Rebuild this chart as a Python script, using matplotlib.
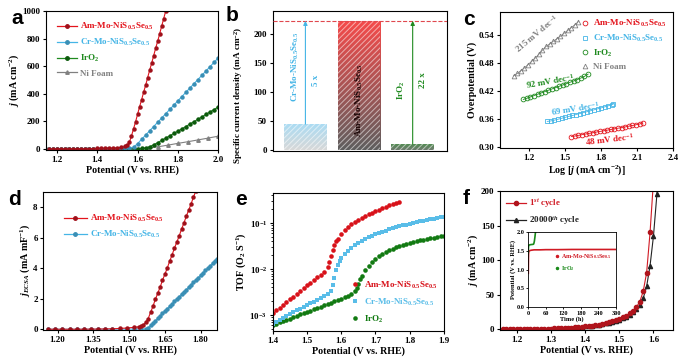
import numpy as np
import matplotlib
matplotlib.use('Agg')
import matplotlib.pyplot as plt
from matplotlib.lines import Line2D
from matplotlib.colors import LinearSegmentedColormap
from matplotlib.ticker import FormatStrFormatter, MultipleLocator

plt.rcParams['font.family'] = ['Liberation Serif', 'DejaVu Serif']
plt.rcParams['font.weight'] = 'bold'
plt.rcParams['axes.labelweight'] = 'bold'
plt.rcParams['mathtext.fontset'] = 'custom'
plt.rcParams['mathtext.rm'] = 'Liberation Serif:bold'
plt.rcParams['mathtext.it'] = 'Liberation Serif:italic:bold'
plt.rcParams['mathtext.bf'] = 'Liberation Serif:bold'
plt.rcParams['axes.linewidth'] = 0.8
plt.rcParams['hatch.linewidth'] = 0.7

RED = '#e3141c'
BLUE = '#45b5e6'
GREEN = '#1f8a1f'
GRAY = '#808080'
AM = 'Am-Mo-NiS$_{0.5}$Se$_{0.5}$'
CR = 'Cr-Mo-NiS$_{0.5}$Se$_{0.5}$'
IR = 'IrO$_2$'
NI = 'Ni Foam'

# ---------------- panel a data ----------------
a_V = np.round(np.arange(1.16, 2.001, 0.02), 2)
a_am_V = [1.16, 1.18, 1.20, 1.22, 1.24, 1.26, 1.28, 1.30, 1.32, 1.34, 1.36, 1.38, 1.40, 1.42, 1.44,
          1.46, 1.48, 1.50, 1.52, 1.54, 1.55, 1.56, 1.57, 1.58, 1.59, 1.60, 1.61, 1.62, 1.63, 1.64,
          1.65, 1.66, 1.67, 1.68, 1.69, 1.70, 1.71, 1.72, 1.73, 1.74]
a_am_j = [0, 0, 0, 0.5, 0.5, 1, 1, 1, 1.5, 2, 2, 2.5, 3, 3.5, 4, 5, 6, 8, 11, 18,
          28, 50, 95, 145, 195, 250, 305, 355, 410, 460, 515, 570, 620, 675, 730, 780, 835, 890, 945, 1000]
a_cr_j = [0, 0, 0, 0, 0, 0, 0, 0.5, 0.5, 0.5, 0.5, 1, 1, 1, 1, 1.5, 2, 2.5, 3, 4, 6, 12,
          38, 69, 100, 131, 162, 193, 224, 255, 286, 317, 348, 379, 410, 441, 472, 503, 534, 565, 596, 627, 658]
a_ir_j = [0, 0, 0, 0, 0, 0, 0, 0, 0, 0, 0, 0, 0.5, 0.5, 0.5, 0.5, 0.5, 1, 1, 1, 1.5, 1.5, 2, 3, 6, 15,
          30, 45, 62, 78, 95, 112, 128, 145, 162, 180, 197, 215, 232, 250, 268, 285, 303]
a_ni_V = [1.15, 1.20, 1.25, 1.30, 1.35, 1.40, 1.45, 1.50, 1.55, 1.60, 1.65, 1.70, 1.75, 1.80, 1.85, 1.90, 1.95, 2.00]
a_ni_j = [0, 0, 0, 0, 0, 0, 0, 0, 0, 1, 5, 15, 27, 40, 52, 65, 78, 92]

# ---------------- panel b data ----------------
b_names = [CR, AM, IR]
b_vals = [45, 223, 10.5]
b_ratio = ['5 x', '', '22 x']

# ---------------- panel c data ----------------
c_am_x = [1.55, 1.58, 1.61, 1.64, 1.67, 1.70, 1.73, 1.76, 1.79, 1.82, 1.85, 1.88, 1.91, 1.94, 1.97, 2.00,
          2.03, 2.06, 2.09, 2.12, 2.145]
c_am_y = [0.322, 0.3233, 0.3247, 0.3262, 0.3276, 0.3290, 0.3304, 0.3318, 0.3331, 0.3345, 0.3358, 0.3372,
          0.3386, 0.3400, 0.3414, 0.3428, 0.3443, 0.3458, 0.3474, 0.3490, 0.3515]
c_cr_x = [1.35, 1.38, 1.41, 1.44, 1.47, 1.50, 1.53, 1.56, 1.59, 1.62, 1.65, 1.68, 1.71, 1.74, 1.77, 1.80,
          1.83, 1.86, 1.89, 1.90]
c_cr_y = [0.3545, 0.3555, 0.3572, 0.3592, 0.3612, 0.3632, 0.3652, 0.3672, 0.3692, 0.3712, 0.3732, 0.3752,
          0.3772, 0.3793, 0.3814, 0.3835, 0.3857, 0.3880, 0.3905, 0.3915]
c_ir_x = [1.15, 1.18, 1.21, 1.24, 1.27, 1.30, 1.33, 1.36, 1.39, 1.42, 1.45, 1.48, 1.51, 1.54, 1.57, 1.60,
          1.63, 1.66, 1.69]
c_ir_y = [0.4015, 0.4040, 0.4070, 0.4098, 0.4127, 0.4155, 0.4183, 0.4212, 0.4240, 0.4268, 0.4297, 0.4325,
          0.4353, 0.4382, 0.4410, 0.4440, 0.4472, 0.4508, 0.4555]
c_ni_x = [1.07, 1.10, 1.13, 1.16, 1.19, 1.22, 1.25, 1.28, 1.31, 1.34, 1.37, 1.40, 1.43, 1.46, 1.49, 1.52,
          1.55, 1.58, 1.61]
c_ni_y = [0.452, 0.457, 0.463, 0.469, 0.476, 0.483, 0.490, 0.498, 0.507, 0.515, 0.520, 0.526, 0.531, 0.537,
          0.543, 0.549, 0.555, 0.561, 0.568]
c_slopes = ['215 mV dec$^{-1}$', '92 mV dec$^{-1}$', '69 mV dec$^{-1}$', '48 mV dec$^{-1}$']

# ---------------- panel d data ----------------
d_am_V = [1.16, 1.19, 1.22, 1.25, 1.28, 1.31, 1.34, 1.37, 1.40, 1.43, 1.46, 1.49, 1.52, 1.54, 1.55, 1.56,
          1.57, 1.58, 1.59, 1.60, 1.61, 1.62, 1.63, 1.64, 1.65, 1.66, 1.67, 1.68, 1.69, 1.70, 1.71, 1.72,
          1.73, 1.74, 1.75, 1.76, 1.77, 1.78]
d_am_j = [0, 0, 0, 0, 0, 0, 0.01, 0.01, 0.02, 0.03, 0.05, 0.08, 0.12, 0.16, 0.2, 0.3, 0.45, 0.7,
          1.1, 1.5, 1.95, 2.35, 2.75, 3.2, 3.6, 4.0, 4.45, 4.85, 5.3, 5.7, 6.1, 6.55, 6.95, 7.4, 7.8,
          8.2, 8.65, 9.05]
d_cr_V = [1.16, 1.19, 1.22, 1.25, 1.28, 1.31, 1.34, 1.37, 1.40, 1.43, 1.46, 1.49, 1.52, 1.55,
          1.57, 1.58, 1.59, 1.60, 1.61, 1.62, 1.63, 1.64, 1.65, 1.66, 1.67, 1.68, 1.69, 1.70, 1.71,
          1.72, 1.73, 1.74, 1.75, 1.76, 1.77, 1.78, 1.79, 1.80, 1.81, 1.82, 1.83, 1.84, 1.85, 1.86, 1.87]
d_cr_j = [0, 0, 0, 0, 0, 0, 0, 0, 0, 0, 0.01, 0.01, 0.01, 0.01,
          0.02, 0.1, 0.25, 0.4, 0.55, 0.72, 0.88, 1.03, 1.2, 1.35, 1.5, 1.65, 1.82, 1.98, 2.13, 2.3,
          2.45, 2.6, 2.76, 2.92, 3.07, 3.23, 3.38, 3.54, 3.7, 3.85, 4.0, 4.16, 4.32, 4.47, 4.62]

# ---------------- panel e data ----------------
e_am_V = [1.40, 1.41, 1.42, 1.43, 1.44, 1.45, 1.46, 1.47, 1.48, 1.49, 1.50, 1.51, 1.52, 1.53, 1.54, 1.55,
          1.56, 1.565, 1.57, 1.575, 1.58, 1.585, 1.59, 1.60, 1.61, 1.62, 1.63, 1.64, 1.65, 1.66, 1.67,
          1.68, 1.69, 1.70, 1.71, 1.72, 1.73, 1.74, 1.75, 1.76, 1.77]
e_am_t = [1.1e-3, 1.26e-3, 1.45e-3, 1.66e-3, 1.9e-3, 2.2e-3, 2.5e-3, 2.9e-3, 3.3e-3, 3.8e-3, 4.4e-3,
          5.0e-3, 5.8e-3, 6.6e-3, 7.6e-3, 8.7e-3, 0.011, 0.014, 0.019, 0.026, 0.033, 0.040, 0.046, 0.058,
          0.070, 0.082, 0.094, 0.106, 0.118, 0.130, 0.143, 0.156, 0.170, 0.184, 0.198, 0.212, 0.227,
          0.243, 0.258, 0.273, 0.288]
e_cr_V = [1.40, 1.41, 1.42, 1.43, 1.44, 1.45, 1.46, 1.47, 1.48, 1.49, 1.50, 1.51, 1.52, 1.53, 1.54, 1.55,
          1.56, 1.57, 1.575, 1.58, 1.585, 1.59, 1.595, 1.60, 1.61, 1.62, 1.63, 1.64, 1.65, 1.66, 1.67,
          1.68, 1.69, 1.70, 1.71, 1.72, 1.73, 1.74, 1.75, 1.76, 1.77, 1.78, 1.79, 1.80, 1.81, 1.82, 1.83,
          1.84, 1.85, 1.86, 1.87, 1.88, 1.89, 1.90]
e_cr_t = [6.5e-4, 7.2e-4, 8.0e-4, 8.8e-4, 9.6e-4, 1.05e-3, 1.15e-3, 1.26e-3, 1.38e-3, 1.5e-3, 1.65e-3,
          1.8e-3, 1.97e-3, 2.15e-3, 2.35e-3, 2.6e-3, 2.9e-3, 3.3e-3, 4.5e-3, 6.5e-3, 9.5e-3, 0.0125,
          0.0150, 0.0172, 0.021, 0.025, 0.029, 0.033, 0.037, 0.041, 0.045, 0.049, 0.053, 0.057, 0.061,
          0.065, 0.069, 0.073, 0.077, 0.081, 0.085, 0.089, 0.093, 0.097, 0.101, 0.105, 0.109, 0.113,
          0.117, 0.121, 0.125, 0.129, 0.133, 0.137]
e_ir_V = [1.40, 1.41, 1.42, 1.43, 1.44, 1.45, 1.46, 1.47, 1.48, 1.49, 1.50, 1.51, 1.52, 1.53, 1.54, 1.55,
          1.56, 1.57, 1.58, 1.59, 1.60, 1.61, 1.62, 1.63, 1.64, 1.645, 1.65, 1.655, 1.66, 1.67, 1.68,
          1.69, 1.70, 1.71, 1.72, 1.73, 1.74, 1.75, 1.76, 1.77, 1.78, 1.79, 1.80, 1.81, 1.82, 1.83, 1.84,
          1.85, 1.86, 1.87, 1.88, 1.89, 1.90]
e_ir_t = [6.0e-4, 6.5e-4, 7.0e-4, 7.4e-4, 7.9e-4, 8.4e-4, 9.0e-4, 9.6e-4, 1.03e-3, 1.1e-3, 1.17e-3,
          1.25e-3, 1.33e-3, 1.42e-3, 1.52e-3, 1.62e-3, 1.73e-3, 1.85e-3, 1.98e-3, 2.12e-3, 2.27e-3,
          2.45e-3, 2.65e-3, 2.9e-3, 3.3e-3, 3.9e-3, 4.8e-3, 6.0e-3, 7.2e-3, 9.5e-3, 0.0118, 0.0142,
          0.0166, 0.019, 0.0213, 0.0235, 0.0257, 0.0278, 0.0298, 0.0318, 0.0337, 0.0355, 0.0373, 0.039,
          0.0407, 0.0423, 0.0439, 0.0455, 0.047, 0.0485, 0.05, 0.0515, 0.053]

# ---------------- panel f data ----------------
f_V1 = np.round(np.arange(1.16, 1.601, 0.01), 2)
f_j1 = [0.0, 0.0, 0.1, 0.1, 0.2, 0.2, 0.3, 0.3, 0.4, 0.5,
        0.6, 0.7, 0.8, 0.9, 1.0, 1.2, 1.4, 1.6, 1.8, 2.1,
        2.4, 2.8, 3.2, 3.7, 4.2, 4.8, 5.4, 6.1, 6.9, 7.8,
        8.8, 10.0, 11.4, 13.0, 15.0, 17.2, 19.8, 23.0, 27.0, 32.0,
        40.0, 55.0, 82.0, 140.0, 215.0]
f_V2 = np.round(np.arange(1.16, 1.621, 0.01), 2)
f_j2 = [0.0, 0.0, 0.1, 0.1, 0.2, 0.2, 0.3, 0.3, 0.4, 0.5,
        0.6, 0.7, 0.8, 0.9, 1.0, 1.2, 1.4, 1.6, 1.8, 2.1,
        2.4, 2.7, 3.1, 3.6, 4.1, 4.6, 5.2, 5.9, 6.6, 7.4,
        8.4, 9.5, 10.8, 12.3, 14.0, 16.0, 18.3, 21.0, 24.5, 29.0,
        35.0, 45.0, 62.0, 92.0, 135.0, 195.0, 260.0]
inset_am_t = [0, 0.5, 1, 2, 5, 10, 20, 40, 60, 100, 150, 200, 250, 300]
inset_am_v = [0.9, 1.3, 1.45, 1.48, 1.50, 1.51, 1.52, 1.52, 1.525, 1.525, 1.53, 1.53, 1.53, 1.53]
inset_ir_t = [0, 0.5, 1, 3, 10, 16, 18, 19, 20, 21, 22, 23, 24, 25]
inset_ir_v = [1.45, 1.58, 1.62, 1.65, 1.66, 1.665, 1.67, 1.69, 1.72, 1.76, 1.82, 1.88, 1.95, 2.0]

# ============================================================
W, H = 692, 362
fig = plt.figure(figsize=(W / 100, H / 100), dpi=100)


def box(l, t, r, b):
    return [l / W, 1 - b / H, (r - l) / W, (b - t) / H]


TICK = 6.5
LBL = 7.2
LEG = 6.5


def style(ax, size=TICK):
    ax.tick_params(direction='out', length=2.5, width=0.8, labelsize=size, pad=1.5)


# ---- a ----
axa = fig.add_axes(box(46, 11, 218, 150))
axa.plot(a_ni_V, a_ni_j, '-^', color=GRAY, ms=2.5, lw=0.8)
axa.plot(a_V, a_ir_j, '-o', color=GREEN, ms=2.2, lw=0.8, mec='#0c5a0c', mfc='#0c5a0c')
axa.plot(a_V, a_cr_j, '-o', color=BLUE, ms=2.2, lw=0.8, mec='#3a8fb5', mfc='#3a8fb5')
axa.plot(a_am_V, a_am_j, '-o', color=RED, ms=2.2, lw=0.8, mec='#a0101a', mfc='#a0101a')
axa.set_xlim(1.145, 2.0)
axa.set_ylim(-8, 1000)
axa.xaxis.set_major_locator(MultipleLocator(0.2))
axa.xaxis.set_major_formatter(FormatStrFormatter('%.1f'))
axa.yaxis.set_major_locator(MultipleLocator(200))
axa.set_xlabel('Potential (V vs. RHE)', fontsize=LBL, labelpad=1)
axa.set_ylabel('$j$ (mA cm$^{-2}$)', fontsize=LBL, labelpad=1)
style(axa)
ha = [Line2D([], [], color=RED, marker='o', ms=2.5, lw=0.9, mfc='#a0101a', mec='#a0101a'),
      Line2D([], [], color=BLUE, marker='o', ms=2.5, lw=0.9, mfc='#3a8fb5', mec='#3a8fb5'),
      Line2D([], [], color=GREEN, marker='o', ms=2.5, lw=0.9, mfc='#0c5a0c', mec='#0c5a0c'),
      Line2D([], [], color=GRAY, marker='^', ms=2.5, lw=0.9)]
axa.legend(ha, [AM, CR, IR, NI], loc='upper left', bbox_to_anchor=(0.03, 0.975), frameon=False,
           fontsize=LEG, handlelength=2.2, handletextpad=0.3, labelspacing=0.55,
           labelcolor=[RED, BLUE, GREEN, GRAY], borderaxespad=0.3)

# ---- b ----
axb = fig.add_axes(box(272.7, 11, 447, 150.7))
grads = [('#d8d8d8', '#a9dcf4'), ('#5e5e5e', '#f64a4a'), ('#6f7a6f', '#4f8f4f')]
bw = 0.79
for i, (h, (cb, ct)) in enumerate(zip(b_vals, grads)):
    bar = axb.bar(i, h, width=bw, color='none', edgecolor='none', zorder=1)[0]
    cmap = LinearSegmentedColormap.from_list('g%d' % i, [cb, ct])
    grad = np.linspace(0, 1, 256).reshape(-1, 1)
    im = axb.imshow(grad, extent=[i - bw / 2, i + bw / 2, 0, h], origin='lower', cmap=cmap,
                    aspect='auto', zorder=1)
    im.set_clip_path(bar)
    axb.bar(i, h, width=bw, facecolor='none', edgecolor=(1, 1, 1, 0.55), hatch='//////',
            linewidth=0, zorder=2)
axb.axhline(b_vals[1], color='#e0484e', ls='--', lw=0.8, zorder=3)
for i, c in [(0, BLUE), (2, GREEN)]:
    axb.annotate('', xy=(i, b_vals[1]), xytext=(i, b_vals[i]),
                 arrowprops=dict(arrowstyle='-|>', color=c, lw=0.8, mutation_scale=6,
                                 shrinkA=0, shrinkB=0), zorder=4)
axb.text(-0.19, 144, b_names[0], rotation=90, color=BLUE, ha='center', va='center', fontsize=LEG)
axb.text(0.19, 121, b_ratio[0], rotation=90, color=BLUE, ha='center', va='center', fontsize=LEG)
axb.text(1.0, 86, b_names[1], rotation=90, color='#1a0505', ha='center', va='center', fontsize=LEG, zorder=5)
axb.text(1.79, 104, b_names[2], rotation=90, color=GREEN, ha='center', va='center', fontsize=LEG)
axb.text(2.19, 121, b_ratio[2], rotation=90, color=GREEN, ha='center', va='center', fontsize=LEG)
axb.set_xlim(-0.61, 2.64)
axb.set_ylim(-1, 240)
axb.set_xticks([])
axb.yaxis.set_major_locator(MultipleLocator(50))
axb.set_ylabel('Specific current density (mA cm$^{-2}$)', fontsize=6.6, labelpad=1)
axb.yaxis.set_label_coords(-0.16, 0.40)
style(axb)

# ---- c ----
axc = fig.add_axes(box(500, 11.7, 673.3, 148.3))
mk = dict(ls='none', mfc='none', ms=3.4, mew=0.6)
axc.plot(c_ni_x, c_ni_y, marker='^', mec=GRAY, **mk)
axc.plot(c_ir_x, c_ir_y, marker='o', mec=GREEN, **mk)
axc.plot(c_cr_x, c_cr_y, marker='s', mec=BLUE, **mk)
axc.plot(c_am_x, c_am_y, marker='o', mec=RED, **mk)
axc.plot(c_ni_x, c_ni_y, '-', color=GRAY, lw=0.6)
axc.plot(c_ir_x, c_ir_y, '-', color=GREEN, lw=0.6)
axc.plot(c_cr_x, c_cr_y, '-', color=BLUE, lw=0.6)
axc.plot(c_am_x, c_am_y, '-', color=RED, lw=0.6)
axc.text(1.265, 0.543, c_slopes[0], rotation=40, color=GRAY, ha='center', va='center', fontsize=LEG)
axc.text(1.37, 0.441, c_slopes[1], rotation=10, color=GREEN, ha='center', va='center', fontsize=LEG)
axc.text(1.58, 0.381, c_slopes[2], rotation=9, color=BLUE, ha='center', va='center', fontsize=LEG)
axc.text(1.873, 0.316, c_slopes[3], rotation=7, color=RED, ha='center', va='center', fontsize=LEG)
axc.set_xlim(0.956, 2.4)
axc.set_ylim(0.297, 0.589)
axc.xaxis.set_major_locator(MultipleLocator(0.3))
axc.xaxis.set_major_formatter(FormatStrFormatter('%.1f'))
axc.yaxis.set_major_locator(MultipleLocator(0.06))
axc.yaxis.set_major_formatter(FormatStrFormatter('%.2f'))
axc.set_xlabel('Log [$j$ (mA cm$^{-2}$)]', fontsize=LBL, labelpad=1)
axc.set_ylabel('Overpotential (V)', fontsize=LBL, labelpad=1)
style(axc)
hc = [Line2D([], [], marker='o', mec=RED, **mk), Line2D([], [], marker='s', mec=BLUE, **mk),
      Line2D([], [], marker='o', mec=GREEN, **mk), Line2D([], [], marker='^', mec=GRAY, **mk)]
axc.legend(hc, [AM, CR, IR, NI], loc='upper right', bbox_to_anchor=(1.0, 1.0), frameon=False,
           fontsize=LEG, handlelength=0.8, handletextpad=0.5, labelspacing=0.4,
           labelcolor=[RED, BLUE, GREEN, GRAY], borderaxespad=0.3)

# ---- d ----
axd = fig.add_axes(box(43.3, 191.7, 217.3, 330))
axd.plot(d_cr_V, d_cr_j, '-o', color=BLUE, ms=2.2, lw=0.8, mfc='#3a8fb5', mec='#3a8fb5')
axd.plot(d_am_V, d_am_j, '-o', color=RED, ms=2.2, lw=0.8, mfc='#a0101a', mec='#a0101a')
axd.set_xlim(1.14, 1.87)
axd.set_ylim(-0.05, 9)
axd.set_xticks([1.20, 1.35, 1.50, 1.65, 1.80])
axd.xaxis.set_major_formatter(FormatStrFormatter('%.2f'))
axd.yaxis.set_major_locator(MultipleLocator(2))
axd.set_xlabel('Potential (V vs. RHE)', fontsize=LBL, labelpad=1)
axd.set_ylabel('$j_{ECSA}$ (mA mF$^{-1}$)', fontsize=LBL, labelpad=1)
style(axd)
axd.legend(ha[:2], [AM, CR], loc='upper left', bbox_to_anchor=(0.08, 0.89), frameon=False,
           fontsize=LEG, handlelength=2.6, handletextpad=0.3, labelspacing=0.5,
           labelcolor=[RED, BLUE], borderaxespad=0.3)

# ---- e ----
axe = fig.add_axes(box(272.7, 192.7, 444, 331))
axe.plot(e_ir_V, e_ir_t, 'o', color='#127a12', ms=3.3, mew=0)
axe.plot(e_cr_V, e_cr_t, 's', color='#59bde8', ms=3.0, mew=0)
axe.plot(e_am_V, e_am_t, 'o', color='#d8121a', ms=3.3, mew=0)
axe.set_yscale('log')
axe.set_xlim(1.4, 1.9)
axe.set_ylim(4.5e-4, 0.46)
axe.xaxis.set_major_locator(MultipleLocator(0.1))
axe.xaxis.set_major_formatter(FormatStrFormatter('%.1f'))
axe.set_xlabel('Potential (V vs. RHE)', fontsize=LBL, labelpad=1)
axe.set_ylabel('TOF (O$_2$ S$^{-1}$)', fontsize=LBL, labelpad=1)
style(axe)
axe.tick_params(which='minor', direction='out', length=1.5, width=0.6)
he = [Line2D([], [], marker='o', ls='none', color='#d8121a', ms=3.3, mew=0),
      Line2D([], [], marker='s', ls='none', color='#59bde8', ms=3.0, mew=0),
      Line2D([], [], marker='o', ls='none', color='#127a12', ms=3.3, mew=0)]
axe.legend(he, [AM, CR, IR], loc='lower right', bbox_to_anchor=(1.0, 0.0), frameon=False,
           fontsize=LEG, handlelength=0.8, handletextpad=0.6, labelspacing=0.65,
           labelcolor=['#d8121a', '#59bde8', '#127a12'], borderaxespad=0.3)

# ---- f ----
axf = fig.add_axes(box(500, 191, 673.3, 330))
axf.plot(f_V2, f_j2, '-^', color='#222222', ms=3.0, lw=0.8)
axf.plot(f_V1, f_j1, '-o', color='#d01a24', ms=3.0, lw=0.8, mfc='#b0141c', mec='#b0141c')
axf.set_xlim(1.151, 1.658)
axf.set_ylim(-1, 200)
axf.xaxis.set_major_locator(MultipleLocator(0.1))
axf.xaxis.set_major_formatter(FormatStrFormatter('%.1f'))
axf.yaxis.set_major_locator(MultipleLocator(50))
axf.set_xlabel('Potential (V vs. RHE)', fontsize=LBL, labelpad=1)
axf.set_ylabel('$j$ (mA cm$^{-2}$)', fontsize=LBL, labelpad=1)
style(axf)
hf = [Line2D([], [], color='#d01a24', marker='o', ms=3, lw=0.9, mfc='#b0141c', mec='#b0141c'),
      Line2D([], [], color='#222222', marker='^', ms=3, lw=0.9)]
axf.legend(hf, ['1$^{st}$ cycle', '20000$^{th}$ cycle'], loc='upper left', bbox_to_anchor=(0.0, 1.0),
           frameon=False, fontsize=LEG, handlelength=2.2, handletextpad=0.3, labelspacing=0.5,
           labelcolor=['#d01a24', '#222222'], borderaxespad=0.3)

axi = fig.add_axes(box(528.3, 231.7, 616, 307.3))
axi.plot(inset_am_t, inset_am_v, '-', color='#d01a24', lw=1.2)
axi.plot(inset_ir_t, inset_ir_v, '-', color='#1a8a1a', lw=1.2)
axi.set_xlim(0, 300)
axi.set_ylim(0, 2.0)
axi.xaxis.set_major_locator(MultipleLocator(60))
axi.yaxis.set_major_locator(MultipleLocator(0.5))
axi.yaxis.set_major_formatter(FormatStrFormatter('%.1f'))
axi.set_xlabel('Time (h)', fontsize=4.6, labelpad=0.5)
axi.set_ylabel('Potential (V vs. RHE)', fontsize=4.6, labelpad=0.5)
axi.tick_params(direction='out', length=1.5, width=0.6, labelsize=4.6, pad=1)
for s in axi.spines.values():
    s.set_linewidth(0.6)
hi = [Line2D([], [], marker='o', ls='none', color='#d01a24', ms=1.5),
      Line2D([], [], marker='o', ls='none', color='#1a8a1a', ms=1.5)]
axi.legend(hi, [AM, IR], loc='upper left', bbox_to_anchor=(0.26, 0.78), frameon=False, fontsize=4.4,
           handlelength=0.6, handletextpad=0.4, labelspacing=0.6,
           labelcolor=['#d01a24', '#1a8a1a'], borderaxespad=0.2)

# ---- panel letters ----
for x, y, s in [(11, 23.5, 'a'), (226, 21, 'b'), (463, 25, 'c'), (8, 205, 'd'), (235, 205, 'e'),
                (463, 204, 'f')]:
    fig.text(x / W, 1 - y / H, s, fontsize=15, fontweight='bold', family='Liberation Sans',
             va='baseline', ha='left')

fig.savefig('out.png', dpi=100)
